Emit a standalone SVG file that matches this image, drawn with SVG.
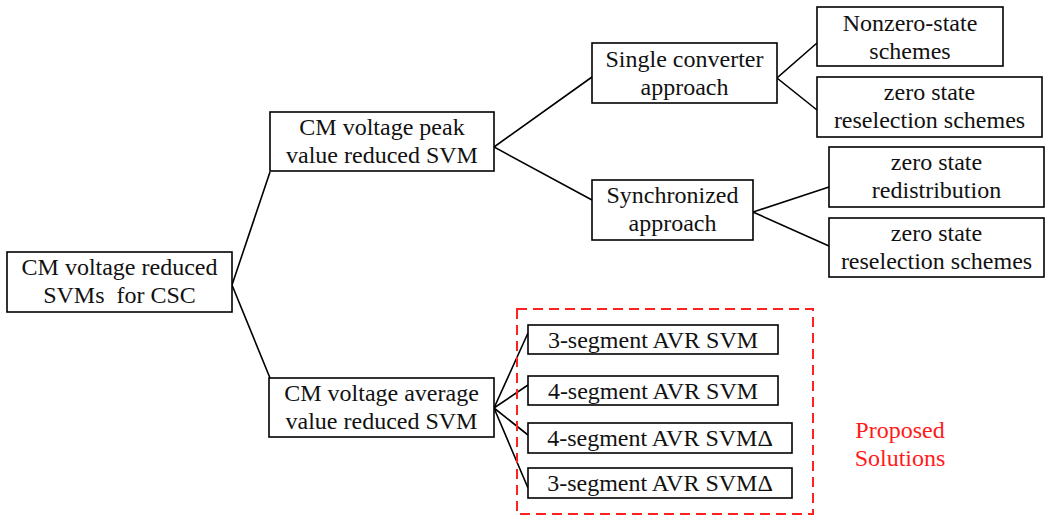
<svg xmlns="http://www.w3.org/2000/svg" width="1045" height="517" viewBox="0 0 1045 517">
  <style>
    .box { fill: #ffffff; stroke: #000000; stroke-width: 1.6; }
    .lbl { font-family: "Liberation Serif", "Times New Roman", serif; font-size: 24px; fill: #111111; text-anchor: middle; }
    .red { fill: #ff1a1a; }
    .link { stroke: #000000; stroke-width: 1.6; fill: none; }
    .group { fill: none; stroke: #ff2020; stroke-width: 2; stroke-dasharray: 10 6; }
  </style>
  <rect width="1045" height="517" fill="#ffffff"/>

  <!-- connectors -->
  <g id="connectors">
    <polyline class="link" points="270,172 232,285 270,378"/>
    <polyline class="link" points="592,77 494,147 592,200"/>
    <polyline class="link" points="817,43 777,78 817,110"/>
    <polyline class="link" points="829,187 753,212 829,246"/>
    <polyline class="link" points="528,333 494,408 528,385"/>
    <polyline class="link" points="528,435 494,408 528,488"/>
  </g>

  <!-- proposed-solutions frame -->
  <rect class="group" x="517" y="309" width="296" height="205"/>

  <g id="root">
    <rect class="box" x="7" y="252" width="225" height="60"/>
    <text class="lbl" x="119.5" y="275">CM voltage reduced</text>
    <text class="lbl" x="119.5" y="303" xml:space="preserve">SVMs  for CSC</text>
  </g>

  <g id="peak">
    <rect class="box" x="270" y="112" width="224" height="59"/>
    <text class="lbl" x="382" y="135">CM voltage peak</text>
    <text class="lbl" x="382" y="163">value reduced SVM</text>
  </g>

  <g id="average">
    <rect class="box" x="269" y="378" width="225" height="59"/>
    <text class="lbl" x="381.5" y="401">CM voltage average</text>
    <text class="lbl" x="381.5" y="429">value reduced SVM</text>
  </g>

  <g id="single">
    <rect class="box" x="592" y="43" width="185" height="60"/>
    <text class="lbl" x="684.5" y="67">Single converter</text>
    <text class="lbl" x="684.5" y="95">approach</text>
  </g>

  <g id="synchronized">
    <rect class="box" x="592" y="180" width="161" height="60"/>
    <text class="lbl" x="672.5" y="203">Synchronized</text>
    <text class="lbl" x="672.5" y="231">approach</text>
  </g>

  <g id="nonzero">
    <rect class="box" x="817" y="7" width="186" height="59"/>
    <text class="lbl" x="910" y="31">Nonzero-state</text>
    <text class="lbl" x="910" y="59">schemes</text>
  </g>

  <g id="reselection-single">
    <rect class="box" x="817" y="77" width="225" height="60"/>
    <text class="lbl" x="929.5" y="100">zero state</text>
    <text class="lbl" x="929.5" y="128">reselection schemes</text>
  </g>

  <g id="redistribution">
    <rect class="box" x="829" y="147" width="215" height="60"/>
    <text class="lbl" x="936.5" y="170">zero state</text>
    <text class="lbl" x="936.5" y="198">redistribution</text>
  </g>

  <g id="reselection-sync">
    <rect class="box" x="829" y="218" width="215" height="59"/>
    <text class="lbl" x="936.5" y="241">zero state</text>
    <text class="lbl" x="936.5" y="269">reselection schemes</text>
  </g>

  <g id="avr3">
    <rect class="box" x="528" y="325" width="250" height="29"/>
    <text class="lbl" x="653" y="348">3-segment AVR SVM</text>
  </g>

  <g id="avr4">
    <rect class="box" x="528" y="376" width="250" height="29"/>
    <text class="lbl" x="653" y="399">4-segment AVR SVM</text>
  </g>

  <g id="avr4-delta">
    <rect class="box" x="528" y="423" width="264" height="30"/>
    <text class="lbl" x="660" y="446">4-segment AVR SVMΔ</text>
  </g>

  <g id="avr3-delta">
    <rect class="box" x="528" y="468" width="264" height="30"/>
    <text class="lbl" x="660" y="491">3-segment AVR SVMΔ</text>
  </g>

  <g id="proposed">
    <text class="lbl red" x="900" y="438">Proposed</text>
    <text class="lbl red" x="900" y="466">Solutions</text>
  </g>
</svg>
